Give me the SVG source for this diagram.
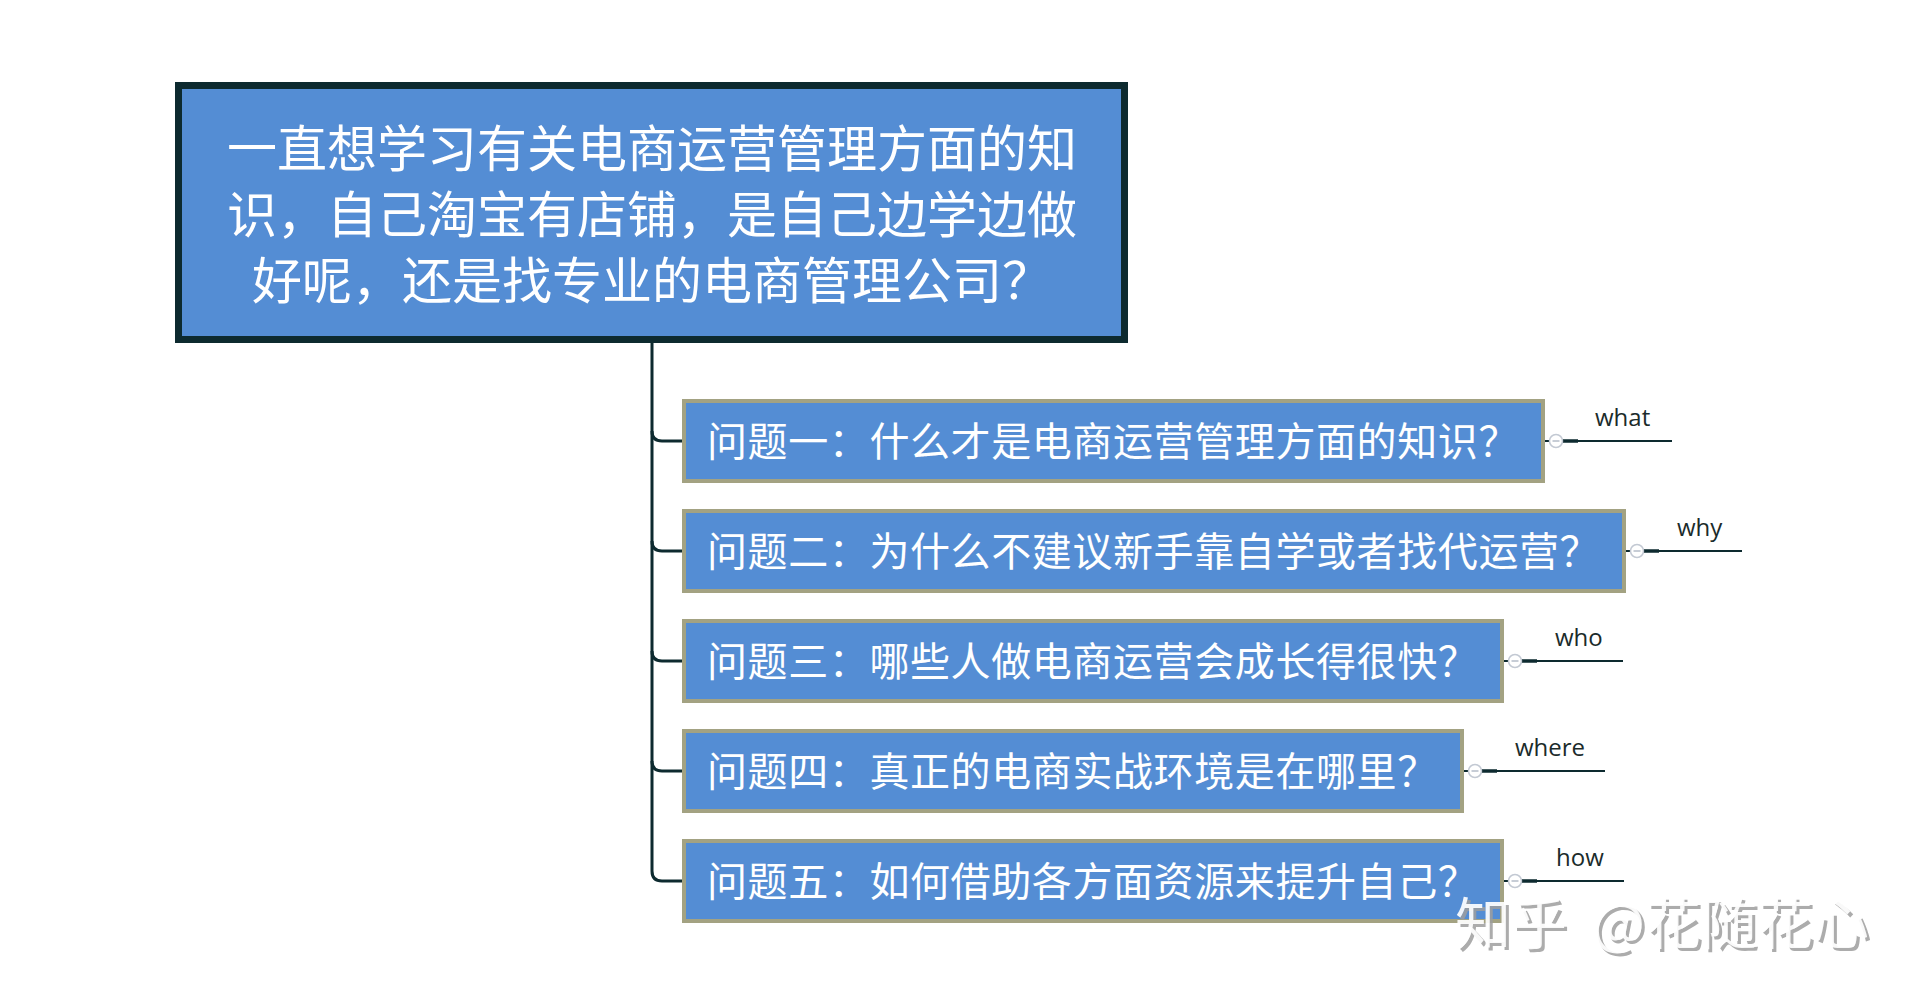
<svg xmlns="http://www.w3.org/2000/svg" width="1920" height="1000" viewBox="0 0 1920 1000">
  <style>
    .root-box { fill: #548DD4; stroke: #0D2A2F; stroke-width: 7; }
    .child-box { fill: #548DD4; stroke: #A3A282; stroke-width: 4; }
    .cjk { font-family: "Noto Sans CJK SC", "Noto Sans", sans-serif; fill: #FFFFFF; }
    .root-text { font-size: 50px; text-anchor: middle; }
    .child-text { font-size: 40px; letter-spacing: 0.6px; }
    .conn { fill: none; stroke: #0D2A2F; stroke-width: 3; }
    .tail { fill: none; stroke: #0D2A2F; stroke-width: 2; }
    .tail-thick { fill: none; stroke: #0D2A2F; stroke-width: 3.5; }
    .knob { fill: #FFFFFF; stroke: #C3C9D3; stroke-width: 1.5; }
    .knob-minus { stroke: #B5BCC8; stroke-width: 1.5; }
    .label { font-family: "Open Sans", "Noto Sans", sans-serif; font-size: 24px; fill: #1B2B2B; }
    .wm { font-family: "Noto Sans CJK SC", sans-serif; font-size: 56px; }
  </style>
  <rect width="1920" height="1000" fill="#FFFFFF"/>

  <g id="connectors">
    <path class="conn" d="M652,343 V871 Q652,881 662,881 H683"/>
    <path class="conn" d="M652,431 Q652,441 662,441 H683"/>
    <path class="conn" d="M652,541 Q652,551 662,551 H683"/>
    <path class="conn" d="M652,651 Q652,661 662,661 H683"/>
    <path class="conn" d="M652,761 Q652,771 662,771 H683"/>
  </g>

  <g id="root">
    <rect class="root-box" x="178.5" y="85.5" width="946" height="254"/>
    <text class="cjk root-text" x="652" y="167">一直想学习有关电商运营管理方面的知</text>
    <text class="cjk root-text" x="652" y="233">识，自己淘宝有店铺，是自己边学边做</text>
    <text class="cjk root-text" x="652" y="299">好呢，还是找专业的电商管理公司？</text>
  </g>

  <g id="q1">
    <rect class="child-box" x="684" y="401" width="859" height="80"/>
    <text class="cjk child-text" x="707" y="456">问题一：什么才是电商运营管理方面的知识？</text>
  </g>
  <g id="q2">
    <rect class="child-box" x="684" y="511" width="940" height="80"/>
    <text class="cjk child-text" x="707" y="566">问题二：为什么不建议新手靠自学或者找代运营？</text>
  </g>
  <g id="q3">
    <rect class="child-box" x="684" y="621" width="818" height="80"/>
    <text class="cjk child-text" x="707" y="676">问题三：哪些人做电商运营会成长得很快？</text>
  </g>
  <g id="q4">
    <rect class="child-box" x="684" y="731" width="778" height="80"/>
    <text class="cjk child-text" x="707" y="786">问题四：真正的电商实战环境是在哪里？</text>
  </g>
  <g id="q5">
    <rect class="child-box" x="684" y="841" width="818" height="80"/>
    <text class="cjk child-text" x="707" y="896">问题五：如何借助各方面资源来提升自己？</text>
  </g>

  <g id="what">
    <line class="tail" x1="1545" y1="441" x2="1550" y2="441"/>
    <line class="tail" x1="1562" y1="441" x2="1672" y2="441"/>
    <line class="tail-thick" x1="1562" y1="441" x2="1578" y2="441"/>
    <circle class="knob" cx="1556" cy="441" r="6.5"/>
    <line class="knob-minus" x1="1552.5" y1="441" x2="1559.5" y2="441"/>
    <text class="label" x="1595" y="426">what</text>
  </g>
  <g id="why">
    <line class="tail" x1="1626" y1="551" x2="1631" y2="551"/>
    <line class="tail" x1="1643" y1="551" x2="1742" y2="551"/>
    <line class="tail-thick" x1="1643" y1="551" x2="1659" y2="551"/>
    <circle class="knob" cx="1637" cy="551" r="6.5"/>
    <line class="knob-minus" x1="1633.5" y1="551" x2="1640.5" y2="551"/>
    <text class="label" x="1677" y="536">why</text>
  </g>
  <g id="who">
    <line class="tail" x1="1504" y1="661" x2="1509" y2="661"/>
    <line class="tail" x1="1521" y1="661" x2="1623" y2="661"/>
    <line class="tail-thick" x1="1521" y1="661" x2="1537" y2="661"/>
    <circle class="knob" cx="1515" cy="661" r="6.5"/>
    <line class="knob-minus" x1="1511.5" y1="661" x2="1518.5" y2="661"/>
    <text class="label" x="1555" y="646">who</text>
  </g>
  <g id="where">
    <line class="tail" x1="1464" y1="771" x2="1469" y2="771"/>
    <line class="tail" x1="1481" y1="771" x2="1605" y2="771"/>
    <line class="tail-thick" x1="1481" y1="771" x2="1497" y2="771"/>
    <circle class="knob" cx="1475" cy="771" r="6.5"/>
    <line class="knob-minus" x1="1471.5" y1="771" x2="1478.5" y2="771"/>
    <text class="label" x="1515" y="756">where</text>
  </g>
  <g id="how">
    <line class="tail" x1="1504" y1="881" x2="1509" y2="881"/>
    <line class="tail" x1="1521" y1="881" x2="1624" y2="881"/>
    <line class="tail-thick" x1="1521" y1="881" x2="1537" y2="881"/>
    <circle class="knob" cx="1515" cy="881" r="6.5"/>
    <line class="knob-minus" x1="1511.5" y1="881" x2="1518.5" y2="881"/>
    <text class="label" x="1556" y="866">how</text>
  </g>

  <g id="watermark">
    <text class="wm" y="947" fill="#9E9E9E" fill-opacity="0.85"><tspan x="1458">知乎</tspan><tspan x="1595">@花随花心</tspan></text>
    <text class="wm" y="944" fill="#FFFFFF" fill-opacity="0.92"><tspan x="1455">知乎</tspan><tspan x="1592">@花随花心</tspan></text>
  </g>
</svg>
